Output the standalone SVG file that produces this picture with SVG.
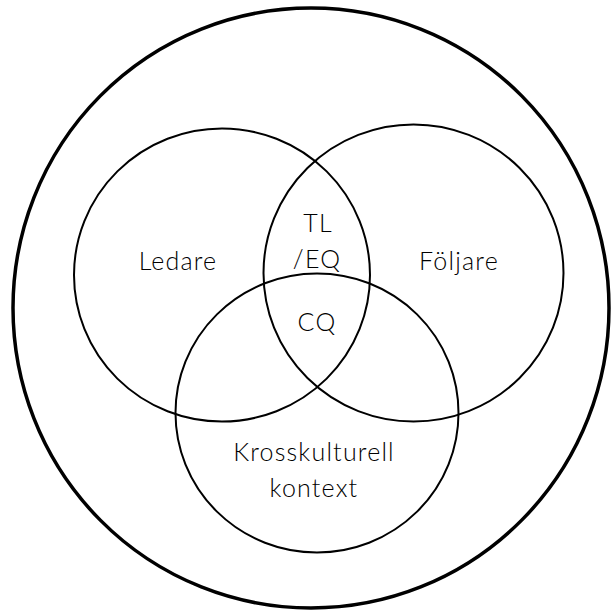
<svg xmlns="http://www.w3.org/2000/svg" width="611" height="614" viewBox="0 0 611 614">
<style>
.c{fill:none;stroke:#000;stroke-width:2}
.o{fill:none;stroke:#000;stroke-width:3.5}
text{font-family:Lato,"Open Sans",sans-serif;font-size:25px;font-weight:300;letter-spacing:1.2px;fill:#000;text-anchor:middle}
</style>
<rect width="611" height="614" fill="#fff"/>
<g id="outer"><ellipse class="o" cx="311" cy="308" rx="298" ry="300"/></g>
<g id="ledare"><ellipse class="c" cx="222" cy="275" rx="148" ry="146.5"/><text x="178" y="270">Ledare</text></g>
<g id="foljare"><ellipse class="c" cx="413.5" cy="273" rx="150" ry="148.5"/><text x="459" y="270">Följare</text></g>
<g id="kontext"><ellipse class="c" cx="317" cy="413" rx="141.5" ry="139.5"/><text x="314" y="461">Krosskulturell</text><text x="314" y="497">kontext</text></g>
<g id="tleq"><text x="318" y="232">TL</text><text x="317" y="268">/EQ</text></g>
<g id="cq"><text x="317" y="331">CQ</text></g>
<g id="connectors"/>
</svg>
